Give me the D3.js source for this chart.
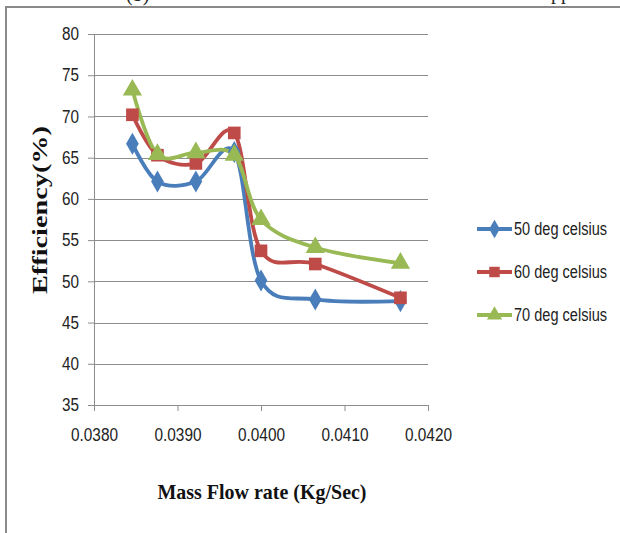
<!DOCTYPE html>
<html>
<head>
<meta charset="utf-8">
<script src="https://cdn.jsdelivr.net/npm/d3@7"></script>
<style>
html,body{margin:0;padding:0;background:#fff;overflow:hidden;}
svg{display:block;}
</style>
</head>
<body>
<svg id="chart" width="620" height="533"></svg>
<script>
// ---- data ----
const massFlow = [0.03846, 0.03876, 0.03922, 0.03968, 0.04000, 0.04065, 0.04167];
const eff50 = [66.7, 62.1, 62.1, 65.7, 50.1, 47.8, 47.6];
const eff60 = [70.2, 65.3, 64.3, 68.0, 53.7, 52.1, 48.0];
const eff70 = [73.2, 65.4, 65.6, 65.3, 57.5, 54.1, 52.2];
const seriesNames = ["50 deg celsius", "60 deg celsius", "70 deg celsius"];
const xTicks = [0.038, 0.039, 0.040, 0.041, 0.042];
const yTicks = [35, 40, 45, 50, 55, 60, 65, 70, 75, 80];
const xTitle = "Mass Flow rate (Kg/Sec)";
const yTitle = "Efficiency(%)";

const colors = ["#4a7ebb", "#be4b48", "#98b954"];
const symbols = [d3.symbolDiamond, d3.symbolSquare, d3.symbolTriangle];
const allSeries = [eff50, eff60, eff70];

const svg = d3.select("#chart");
const tickFont = "'Liberation Sans', Arial, sans-serif";
const titleFont = "'Liberation Serif', 'Times New Roman', serif";

// page text fragments cut at top (as in the reference)
svg.append("text").attr("x", 126).attr("y", 1).attr("font-family", titleFont)
  .attr("font-size", 20).attr("fill", "#222").text("(b)");
svg.append("text").attr("x", 551).attr("y", -1).attr("font-family", titleFont)
  .attr("font-size", 20).attr("fill", "#222").text("pp");

// outer frame
svg.append("rect").attr("x", 6).attr("y", 7).attr("width", 700).attr("height", 600)
  .attr("fill", "none").attr("stroke", "#8a8a8a").attr("stroke-width", 2);

const x = d3.scaleLinear().domain([0.038, 0.042]).range([94, 428]);
const y = d3.scaleLinear().domain([35, 80]).range([405, 34]);

// gridlines
svg.append("g").selectAll("line").data(yTicks.filter(t => t > 35)).join("line")
  .attr("x1", x(0.038)).attr("x2", x(0.042))
  .attr("y1", d => Math.round(y(d)) + 0.5).attr("y2", d => Math.round(y(d)) + 0.5)
  .attr("stroke", "#8c8c8c").attr("stroke-width", 1);

// axes
const yAxis = svg.append("g").attr("transform", `translate(${x(0.038)},0)`)
  .call(d3.axisLeft(y).tickValues(yTicks).tickSize(6).tickPadding(9).tickFormat(d3.format("d")));
const xAxis = svg.append("g").attr("transform", `translate(0,${y(35)})`)
  .call(d3.axisBottom(x).tickValues(xTicks).tickSize(6).tickPadding(17).tickFormat(d3.format(".4f")));
[yAxis, xAxis].forEach(a => {
  a.select(".domain").attr("stroke", "#8c8c8c");
  a.selectAll(".tick line").attr("stroke", "#8c8c8c");
  a.selectAll(".tick text").attr("font-family", tickFont).attr("font-size", 18).attr("fill", "#222")
    .attr("lengthAdjust", "spacingAndGlyphs");
});
yAxis.selectAll(".tick text").attr("textLength", 17);
xAxis.selectAll(".tick text").attr("textLength", 47);

// series
const line = d3.line().x((d, i) => x(massFlow[i])).y(d => y(d)).curve(d3.curveCardinal.tension(0));
allSeries.forEach((vals, s) => {
  svg.append("path").datum(vals).attr("d", line)
    .attr("fill", "none").attr("stroke", colors[s]).attr("stroke-width", 3.8);
});
allSeries.forEach((vals, s) => {
  const sizes = [140, 160, 160];
  svg.append("g").selectAll("path").data(vals).join("path")
    .attr("transform", (d, i) => `translate(${x(massFlow[i])},${y(d)})`)
    .attr("d", d3.symbol().type(symbols[s]).size(sizes[s]))
    .attr("fill", colors[s]);
});

// legend
const legY = [229, 272, 315];
seriesNames.forEach((name, s) => {
  const g = svg.append("g");
  g.append("line").attr("x1", 477).attr("x2", 512).attr("y1", legY[s]).attr("y2", legY[s])
    .attr("stroke", colors[s]).attr("stroke-width", 3.8);
  g.append("path").attr("transform", `translate(494.5,${legY[s]})`)
    .attr("d", d3.symbol().type(symbols[s]).size(s === 1 ? 110 : 100)).attr("fill", colors[s]);
  g.append("text").attr("x", 514).attr("y", legY[s] + 6).attr("font-family", tickFont)
    .attr("font-size", 18).attr("fill", "#222")
    .attr("textLength", 93).attr("lengthAdjust", "spacingAndGlyphs").text(name);
});

// axis titles
svg.append("text").attr("x", 262).attr("y", 499).attr("text-anchor", "middle")
  .attr("font-family", titleFont).attr("font-weight", "bold").attr("font-size", 22)
  .attr("textLength", 209).attr("lengthAdjust", "spacingAndGlyphs").attr("fill", "#111").text(xTitle);
svg.append("text").attr("transform", "translate(47,210) rotate(-90)").attr("text-anchor", "middle")
  .attr("font-family", titleFont).attr("font-weight", "bold").attr("font-size", 22)
  .attr("textLength", 168).attr("lengthAdjust", "spacingAndGlyphs").attr("fill", "#111").text(yTitle);
</script>
</body>
</html>
